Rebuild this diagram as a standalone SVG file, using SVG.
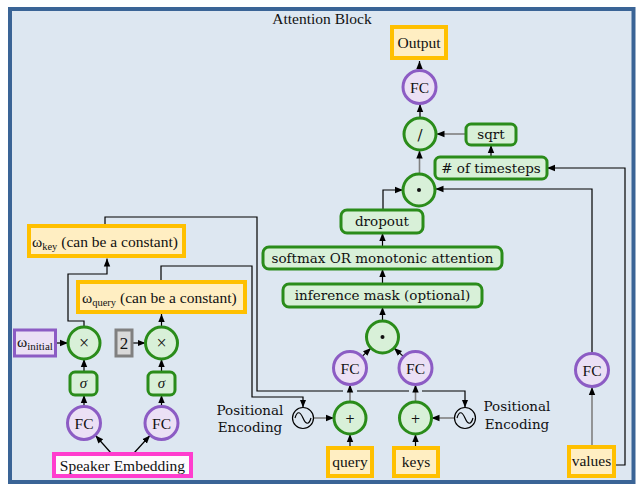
<svg xmlns="http://www.w3.org/2000/svg" width="643" height="488" viewBox="0 0 643 488">
<defs>
<marker id="ah" viewBox="0 0 10 10" refX="10" refY="5" markerWidth="8" markerHeight="8" markerUnits="userSpaceOnUse" orient="auto"><path d="M0,1 L10,5 L0,9 z" fill="#000"/></marker>
</defs>
<style>
.t{font-family:"Liberation Serif",serif;font-size:15.5px;fill:#111;text-anchor:middle}
.c{font-family:"DejaVu Serif",serif;font-size:13.5px;fill:#111;text-anchor:middle}
.org{fill:#ffeec2;stroke:#ffc000;stroke-width:4}
.grn{fill:#d8f0d8;stroke:#2a8c1a;stroke-width:3}
.pur{fill:#ebe0f5;stroke:#8c5cc4;stroke-width:3}
.ln{fill:none;stroke:#000;stroke-width:1.2;marker-end:url(#ah)}
.gl{fill:none;stroke:#808080;stroke-width:1.6;marker-end:url(#ah)}
.pe{fill:none;stroke:#000;stroke-width:1.2}
</style>
<rect x="10" y="9" width="623.5" height="473" fill="#dde7f1" stroke="#3a6496" stroke-width="4"/>
<text class="t" x="322" y="23.5">Attention Block</text>

<g id="connectors">
<path class="ln" d="M419.5,70.5 V61"/>
<path class="ln" d="M420,118 V104"/>
<path class="gl" d="M466,134 H436.5"/>
<path class="ln" d="M491,157 V145"/>
<path class="gl" d="M419.5,174 V150.5"/>
<path class="ln" d="M614,465 H625 V168 H547"/>
<path class="ln" d="M592,353.5 V189 H435.5"/>
<path class="gl" d="M592,447 V387"/>
<path class="ln" d="M383,210 V190 H403"/>
<path class="ln" d="M382.5,247 V233"/>
<path class="ln" d="M382.5,284 V269"/>
<path class="ln" d="M382.5,321 V307"/>
<path class="ln" d="M361.9,356.6 L371,348"/>
<path class="ln" d="M403.6,356.6 L394,348"/>
<path class="gl" d="M350,402 V384.5"/>
<path class="gl" d="M415.5,402 V384.5"/>
<path class="gl" d="M313.5,418 H334"/>
<path class="gl" d="M454.5,418 H431.5"/>
<path class="ln" d="M350,448 V434"/>
<path class="ln" d="M415.5,448 V434"/>
<path class="ln" d="M161,282 V266 H252 V397 H303 V407.5"/>
<path class="ln" d="M105,226 V217 H257 V391 H343 M357,391 H409 M422,391 H465 V407.5"/>
<path class="ln" d="M84,327 V321 H68 V274 H107 V258.5"/>
<path class="ln" d="M161.5,327 V314"/>
<path class="ln" d="M56,343 H68"/>
<path class="ln" d="M133,343 H145.5"/>
<path class="ln" d="M84,372 V359"/>
<path class="ln" d="M161.5,372 V359"/>
<path class="ln" d="M84,406.5 V395"/>
<path class="ln" d="M161.5,406.5 V395"/>
<path class="ln" d="M111,453 L95.5,435.5"/>
<path class="ln" d="M134,453 L150,435.5"/>
</g>

<g id="output"><rect class="org" x="392" y="27" width="54" height="31"/><text class="t" x="419" y="48">Output</text></g>
<g id="fc_out"><circle class="pur" cx="419.5" cy="87" r="16.5"/><text class="t" x="419.5" y="92.5">FC</text></g>
<g id="div"><circle class="grn" cx="420" cy="134" r="16"/><text class="c" x="420" y="139.5" style="font-size:15px">/</text></g>
<g id="sqrt"><rect class="grn" x="466" y="124" width="50" height="21" rx="5"/><text class="c" x="491" y="139">sqrt</text></g>
<g id="timesteps"><rect class="grn" x="435" y="157" width="112" height="22" rx="5"/><text class="c" x="491" y="173"># of timesteps</text></g>
<g id="dot_top"><circle class="grn" cx="419" cy="190" r="16"/><circle cx="419" cy="190" r="2" fill="#111"/></g>
<g id="dropout"><rect class="grn" x="341" y="210" width="82" height="23" rx="6"/><text class="c" x="382" y="226">dropout</text></g>
<g id="softmax"><rect class="grn" x="263" y="247" width="239" height="22" rx="6"/><text class="c" x="382.5" y="263">softmax OR monotonic attention</text></g>
<g id="infmask"><rect class="grn" x="283" y="284" width="199" height="23" rx="6"/><text class="c" x="382.5" y="300">inference mask (optional)</text></g>
<g id="dot_bot"><circle class="grn" cx="382.5" cy="337" r="16"/><circle cx="382.5" cy="337" r="2" fill="#111"/></g>
<g id="fc_q"><circle class="pur" cx="350" cy="368" r="16.5"/><text class="t" x="350" y="373.5">FC</text></g>
<g id="fc_k"><circle class="pur" cx="415.5" cy="368" r="16.5"/><text class="t" x="415.5" y="373.5">FC</text></g>
<g id="plus_q"><circle class="grn" cx="350" cy="418" r="16"/><text class="c" x="350" y="422.5" style="font-size:12px">+</text></g>
<g id="plus_k"><circle class="grn" cx="415.5" cy="418" r="16"/><text class="c" x="415.5" y="422.5" style="font-size:12px">+</text></g>
<g id="pe_q"><circle class="pe" cx="303" cy="418" r="10.5"/><path class="pe" d="M295,418 C297,411 300,411 303,418 C306,425 309,425 311,418"/><text class="c" x="250" y="415">Positional</text><text class="c" x="250" y="432">Encoding</text></g>
<g id="pe_k"><circle class="pe" cx="465" cy="418" r="10.5"/><path class="pe" d="M457,418 C459,411 462,411 465,418 C468,425 471,425 473,418"/><text class="c" x="517" y="411">Positional</text><text class="c" x="517" y="429">Encoding</text></g>
<g id="query"><rect class="org" x="328" y="448" width="44" height="28"/><text class="t" x="350" y="467">query</text></g>
<g id="keys"><rect class="org" x="394" y="448" width="44" height="28"/><text class="t" x="416" y="467">keys</text></g>
<g id="values"><rect class="org" x="569" y="447" width="45" height="29"/><text class="t" x="591.5" y="466">values</text></g>
<g id="fc_v"><circle class="pur" cx="592" cy="370" r="16.5"/><text class="t" x="592" y="375.5">FC</text></g>
<g id="w_key"><rect class="org" x="29" y="226" width="155" height="30"/><text class="t" x="32" y="247" style="text-anchor:start">ω<tspan font-size="10.5" dy="3">key</tspan><tspan dy="-3"> (can be a constant)</tspan></text></g>
<g id="w_query"><rect class="org" x="78" y="282" width="167" height="30"/><text class="t" x="82" y="303" style="text-anchor:start">ω<tspan font-size="10.5" dy="3">query</tspan><tspan dy="-3"> (can be a constant)</tspan></text></g>
<g id="w_initial"><rect class="pur" x="14.5" y="330" width="41" height="26"/><text class="t" x="17" y="347" style="text-anchor:start">ω<tspan font-size="11" dy="3">initial</tspan></text></g>
<g id="mul1"><circle class="grn" cx="84" cy="343" r="16"/><text class="t" x="84" y="349" style="font-size:18px">×</text></g>
<g id="two"><rect x="116" y="330" width="16" height="26" fill="#d9d9d9" stroke="#808080" stroke-width="3"/><text class="t" x="124" y="348.5" style="font-size:17px">2</text></g>
<g id="mul2"><circle class="grn" cx="161.5" cy="343" r="16"/><text class="t" x="161.5" y="349" style="font-size:18px">×</text></g>
<g id="sig1"><rect class="grn" x="70" y="372" width="27" height="23" rx="5"/><text class="t" x="83.5" y="388" style="font-style:italic;font-size:15px">σ</text></g>
<g id="sig2"><rect class="grn" x="148" y="372" width="27" height="23" rx="5"/><text class="t" x="161.5" y="388" style="font-style:italic;font-size:15px">σ</text></g>
<g id="fc1"><circle class="pur" cx="84" cy="423" r="16.5"/><text class="t" x="84" y="428.5">FC</text></g>
<g id="fc2"><circle class="pur" cx="161.5" cy="423" r="16.5"/><text class="t" x="161.5" y="428.5">FC</text></g>
<g id="speaker"><rect x="54" y="454" width="137" height="22" fill="#fdfbfd" stroke="#ff3dce" stroke-width="4"/><text class="t" x="122.5" y="470.5">Speaker Embedding</text></g>
</svg>
